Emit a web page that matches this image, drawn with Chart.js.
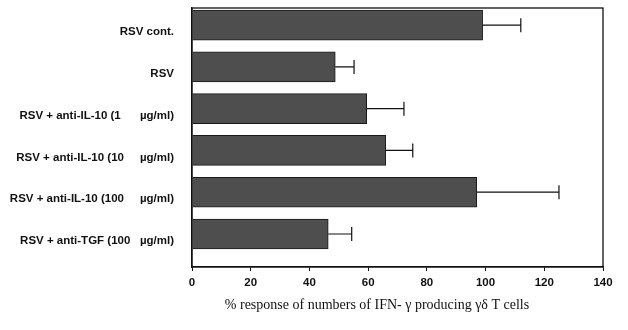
<!DOCTYPE html>
<html>
<head>
<meta charset="utf-8">
<script src="https://cdn.jsdelivr.net/npm/chart.js@4.4.0/dist/chart.umd.min.js"></script>
<style>
  html, body { margin: 0; padding: 0; background: #fff; }
  #wrap { width: 628px; height: 330px; }
</style>
</head>
<body>
<div id="wrap"><canvas id="ifnChart"></canvas></div>
<script>
// groups, top to bottom
var groupLabels = [
  'RSV cont.',
  'RSV',
  'RSV + anti-IL-10 (1      \u00b5g/ml)',
  'RSV + anti-IL-10 (10     \u00b5g/ml)',
  'RSV + anti-IL-10 (100     \u00b5g/ml)',
  'RSV + anti-TGF (100   \u00b5g/ml)'
];
var responseValues = [99, 48.8, 59.5, 66, 97, 46.4];
var responseErrors = [13, 6.4, 12.7, 9.2, 28, 8];
var xTicks = [0, 20, 40, 60, 80, 100, 120, 140];
var axisTitle = '% response of numbers of IFN- \u03b3 producing \u03b3\u03b4 T cells';

var yFont = { family: 'Liberation Sans', size: 11.5, weight: 'bold' };
var xFont = { family: 'Liberation Sans', size: 11.5, weight: 'bold' };

// one-sided error bars + frame + title
var extrasPlugin = {
  id: 'extras',
  afterDatasetsDraw: function (chart) {
    var ctx = chart.ctx;
    var xs = chart.scales.x, ys = chart.scales.y;
    ctx.save();
    ctx.strokeStyle = '#111';
    ctx.lineWidth = 1.2;
    responseValues.forEach(function (v, i) {
      var x0 = xs.getPixelForValue(v);
      var x1 = xs.getPixelForValue(v + responseErrors[i]);
      var y = ys.getPixelForValue(i);
      ctx.beginPath();
      ctx.moveTo(x0, y);
      ctx.lineTo(x1, y);
      ctx.moveTo(x1, y - 7);
      ctx.lineTo(x1, y + 7);
      ctx.stroke();
    });
    var a = chart.chartArea;
    ctx.lineWidth = 1.3;
    ctx.strokeRect(a.left, a.top, a.right - a.left, a.bottom - a.top);
    ctx.fillStyle = '#111';
    ctx.font = '14px "Liberation Serif"';
    ctx.textAlign = 'center';
    ctx.textBaseline = 'middle';
    ctx.fillText(axisTitle, 377, 305);
    ctx.restore();
  }
};

var ctx = document.getElementById('ifnChart').getContext('2d');
var chart = new Chart(ctx, {
  type: 'bar',
  data: {
    datasets: [{
      data: responseValues.map(function (v, i) { return { x: v, y: i }; }),
      backgroundColor: '#4e4e4e',
      borderColor: '#1a1a1a',
      borderWidth: 1,
      barThickness: 30
    }]
  },
  options: {
    indexAxis: 'y',
    responsive: true,
    maintainAspectRatio: false,
    animation: false,
    layout: { padding: { top: 8, right: 25, left: 0, bottom: 0 } },
    plugins: {
      legend: { display: false },
      tooltip: { enabled: false }
    },
    scales: {
      x: {
        type: 'linear',
        min: 0,
        max: 140,
        afterBuildTicks: function (scale) {
          scale.ticks = xTicks.map(function (t) { return { value: t }; });
        },
        afterFit: function (scale) { scale.height = 63; },
        grid: { drawOnChartArea: false, drawTicks: true, tickLength: 4, color: '#111' },
        border: { color: '#111', width: 1.3 },
        ticks: { color: '#111', font: xFont, padding: 5, maxRotation: 0 }
      },
      y: {
        type: 'linear',
        reverse: true,
        offset: false,
        min: -0.41,
        max: 5.79,
        afterBuildTicks: function (scale) {
          scale.ticks = groupLabels.map(function (l, i) { return { value: i }; });
        },
        afterFit: function (scale) {
          scale.width = 192;
          scale.paddingTop = 0;
          scale.paddingBottom = 0;
        },
        grid: { display: false, offset: false },
        border: { color: '#111', width: 1.3 },
        ticks: {
          color: '#111',
          font: yFont,
          padding: 10,
          labelOffset: 7,
          callback: function (value) { return groupLabels[value]; }
        }
      }
    }
  },
  plugins: [extrasPlugin]
});
</script>
</body>
</html>
